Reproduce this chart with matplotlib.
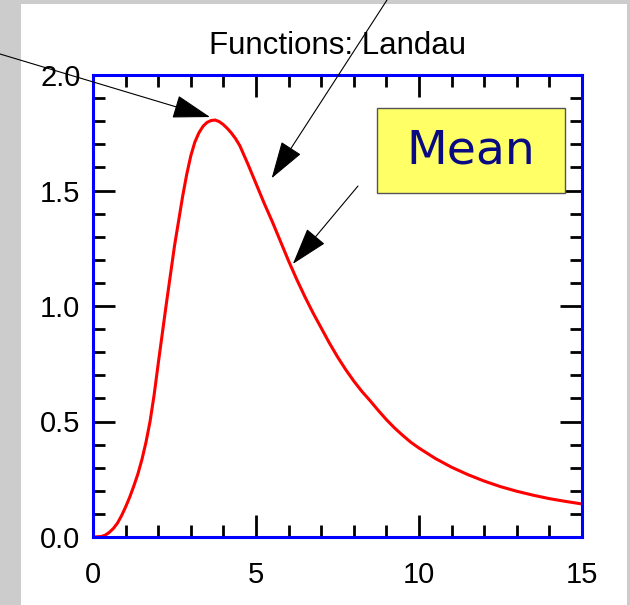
import numpy as np
import matplotlib
matplotlib.use("Agg")
import matplotlib.pyplot as plt
from matplotlib.patches import Rectangle
from matplotlib.ticker import MultipleLocator, FormatStrFormatter

# Landau density
x_vals = [0.0, 0.25, 0.375, 0.5, 0.625, 0.75, 0.875, 1.0, 1.125, 1.25, 1.375, 1.5,
          1.625, 1.75, 1.875, 2.0, 2.25, 2.5, 2.75, 2.875, 3.0, 3.125, 3.25, 3.375,
          3.5, 3.625, 3.75, 3.875, 4.0, 4.125, 4.25, 4.375, 4.5, 4.75, 5.0, 5.25,
          5.5, 5.75, 6.0, 6.25, 6.5, 6.75, 7.0, 7.25, 7.5, 7.75, 8.0, 8.25, 8.5,
          8.75, 9.0, 9.25, 9.5, 9.75, 10.0, 10.5, 11.0, 11.5, 12.0, 12.5, 13.0,
          13.5, 14.0, 14.5, 15.0]
y_vals = [0.0, 0.002, 0.008, 0.02, 0.037, 0.06, 0.092, 0.13, 0.172, 0.22, 0.272, 0.335,
          0.41, 0.50, 0.615, 0.75, 1.01, 1.26, 1.475, 1.57, 1.65, 1.71, 1.75, 1.778,
          1.795, 1.803, 1.805, 1.798, 1.785, 1.768, 1.748, 1.724, 1.695, 1.615, 1.53, 1.445,
          1.365, 1.28, 1.195, 1.115, 1.04, 0.97, 0.905, 0.84, 0.78, 0.725, 0.675, 0.63, 0.59,
          0.548, 0.508, 0.472, 0.44, 0.41, 0.385, 0.34, 0.302, 0.27, 0.242, 0.218, 0.198,
          0.181, 0.166, 0.154, 0.143]

title = "Functions: Landau"
box_label = "Mean"

# arrow tips on the curve (data) and tails (figure pixels from top-left)
arrow_tips = [(3.59, 1.818), (5.48, 1.553), (6.13, 1.182)]
arrow_tails = [(-20, 48), (387, 0), (358, 186)]

W, H = 630, 605


def px(x, y):
    return x / W, 1 - y / H


fig = plt.figure(figsize=(W / 100, H / 100), dpi=100, facecolor="#cccccc")
fig.patches.append(Rectangle(px(21, 605), (627 - 21) / W, (605 - 4) / H,
                             transform=fig.transFigure, facecolor="white",
                             edgecolor="none", zorder=-1))

l, t = px(93, 75)
r, b = px(582, 537)
ax = fig.add_axes([l, b, r - l, t - b])
ax.plot(x_vals, y_vals, color="red", lw=2.2, solid_joinstyle="round", zorder=3)
ax.set_xlim(0, 15)
ax.set_ylim(0, 2.0)

for s in ax.spines.values():
    s.set_color("blue")
    s.set_linewidth(2.2)
    s.set_zorder(4)

ax.xaxis.set_major_locator(MultipleLocator(5))
ax.xaxis.set_minor_locator(MultipleLocator(1))
ax.yaxis.set_major_locator(MultipleLocator(0.5))
ax.yaxis.set_minor_locator(MultipleLocator(0.1))
ax.yaxis.set_major_formatter(FormatStrFormatter("%.1f"))
ax.tick_params(which="both", direction="in", top=True, right=True,
               color="black", width=2)
ax.tick_params(which="major", length=16)
ax.tick_params(which="minor", length=8.5)
ax.tick_params(axis="y", which="major", pad=9)
ax.tick_params(axis="x", which="major", pad=17)
for lab in ax.get_xticklabels() + ax.get_yticklabels():
    lab.set_fontfamily("Liberation Sans")
    lab.set_fontsize(21)

ax.set_title(title, fontfamily="Liberation Sans", fontsize=22.5, pad=15)

for tip, tail in zip(arrow_tips, arrow_tails):
    tx, ty = tail
    ax.annotate("", xy=tip, xycoords="data",
                xytext=(tx, H - ty), textcoords="figure pixels",
                annotation_clip=False,
                arrowprops=dict(arrowstyle="-|>,head_length=24,head_width=7.5",
                                mutation_scale=1, color="black", lw=0.8,
                                shrinkA=0, shrinkB=0),
                zorder=5)

bx0, by1 = px(376.7, 193.3)
bx1, by0 = px(565, 108.3)
fig.patches.append(Rectangle((bx0, by1), bx1 - bx0, by0 - by1,
                             transform=fig.transFigure, facecolor="#ffff66",
                             edgecolor="#555555", lw=1, zorder=6))
fig.text((bx0 + bx1) / 2, (by0 + by1) / 2, box_label, ha="center", va="center",
         fontfamily="DejaVu Sans", fontsize=34, color="#0a0a82", zorder=7)

fig.savefig("out.png", dpi=100, facecolor=fig.get_facecolor())
